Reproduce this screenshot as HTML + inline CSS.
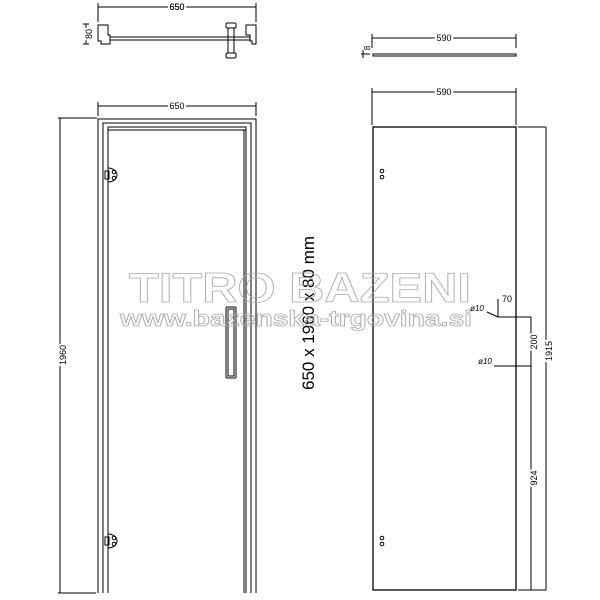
<!DOCTYPE html>
<html><head><style>body{margin:0;background:#fff}svg{display:block}</style></head><body>
<svg width="600" height="600" xmlns="http://www.w3.org/2000/svg" font-family="Liberation Sans, sans-serif">
<rect width="600" height="600" fill="#fff"/>
<g stroke="#000" fill="none" stroke-width="1">
<!-- top plan view -->
<line x1="98" y1="7" x2="256" y2="7"/><line x1="98" y1="3" x2="98" y2="22"/><line x1="256" y1="3" x2="256" y2="22"/>
<line x1="86" y1="24" x2="86" y2="44"/><line x1="83" y1="24" x2="89" y2="24"/><line x1="83" y1="44" x2="89" y2="44"/>
<path d="M98 25 H108 V35 H110 V44 H101 V41 H98 Z"/>
<path d="M246 25 H256 V44 H252 V41 H250 V35 H246 Z"/>
<rect x="110" y="37" width="140" height="3"/>
<rect x="226" y="23" width="10" height="5" rx="1.5"/><rect x="228" y="28" width="6" height="25"/><rect x="226" y="53" width="10" height="5" rx="1.5"/>
<!-- front frame -->
<line x1="98" y1="106" x2="256" y2="106"/><line x1="98" y1="102" x2="98" y2="116"/><line x1="256" y1="102" x2="256" y2="116"/>
<line x1="60" y1="118" x2="60" y2="593"/><line x1="58" y1="118" x2="97" y2="118"/><line x1="58" y1="593" x2="96" y2="593"/>
<path d="M98 593 V119 H256 V593"/>
<path d="M103 593 V123 H251 V593"/>
<path d="M108 593 V127 H246 V593"/>
<line x1="108" y1="130" x2="246" y2="130"/>
<line x1="244" y1="130" x2="244" y2="593"/>
<!-- hinges -->
<path d="M108 168 A9 7 0 0 1 108 182"/><rect x="105" y="171" width="4" height="8"/>
<circle cx="114" cy="172" r="1.8"/><circle cx="114" cy="178" r="1.8"/>
<path d="M108 534 A9 7 0 0 1 108 548"/><rect x="105" y="537" width="4" height="8"/>
<circle cx="114" cy="538" r="1.8"/><circle cx="114" cy="544" r="1.8"/>
<!-- handle -->
<rect x="226" y="307" width="10" height="71" rx="1"/><rect x="228" y="309" width="6" height="67"/>
<!-- right: glass top view -->
<line x1="372" y1="38" x2="516" y2="38"/><line x1="372" y1="34" x2="372" y2="48"/><line x1="516" y1="34" x2="516" y2="48"/>
<rect x="373" y="54" width="143" height="2"/>
<line x1="363" y1="50" x2="363" y2="58"/><line x1="361" y1="54" x2="370" y2="54"/>
<!-- glass panel -->
<line x1="372" y1="92" x2="516" y2="92"/><line x1="372" y1="88" x2="372" y2="125"/><line x1="516" y1="88" x2="516" y2="125"/>
<rect x="373" y="127" width="143" height="463" stroke-width="1.3"/>
<circle cx="382" cy="171" r="1.8"/><circle cx="382" cy="177" r="1.8"/>
<circle cx="382" cy="538" r="1.8"/><circle cx="382" cy="544" r="1.8"/>
<line x1="518" y1="127" x2="546" y2="127"/><line x1="546" y1="127" x2="546" y2="590"/>
<line x1="518" y1="590" x2="546" y2="590"/>
<line x1="498" y1="317" x2="531" y2="317"/><line x1="498" y1="366" x2="531" y2="366"/>
<line x1="531" y1="317" x2="531" y2="590"/>
<line x1="498" y1="299" x2="498" y2="317"/>
<line x1="487" y1="312" x2="498" y2="317"/><line x1="494" y1="366" x2="498" y2="366"/>
</g>
<g font-size="9" fill="#000" text-anchor="middle">
<text x="177" y="10" fill="#000" style="paint-order:stroke" stroke="#fff" stroke-width="4">650</text>
<text x="177" y="10">650</text>
<text x="177" y="109" stroke="#fff" stroke-width="4">650</text><text x="177" y="109">650</text>
<text x="444" y="41" stroke="#fff" stroke-width="4">590</text><text x="444" y="41">590</text>
<text x="444" y="95" stroke="#fff" stroke-width="4">590</text><text x="444" y="95">590</text>
<text x="89" y="37" transform="rotate(-90 89 34)" stroke="#fff" stroke-width="4">80</text><text x="89" y="37" transform="rotate(-90 89 34)">80</text>
<text x="367" y="51" transform="rotate(-90 367 48)" font-size="8">8</text>
<text x="63" y="358" transform="rotate(-90 63 355)" stroke="#fff" stroke-width="4">1960</text><text x="63" y="358" transform="rotate(-90 63 355)">1960</text>
<text x="549" y="354" transform="rotate(-90 549 351)" stroke="#fff" stroke-width="4">1915</text><text x="549" y="354" transform="rotate(-90 549 351)">1915</text>
<text x="534" y="345" transform="rotate(-90 534 342)" stroke="#fff" stroke-width="4">200</text><text x="534" y="345" transform="rotate(-90 534 342)">200</text>
<text x="534" y="481" transform="rotate(-90 534 478)" stroke="#fff" stroke-width="4">924</text><text x="534" y="481" transform="rotate(-90 534 478)">924</text>
<text x="507" y="302" stroke="#fff" stroke-width="3">70</text><text x="507" y="302">70</text>
<text x="477" y="311" font-style="italic" font-size="8">ø10</text>
<text x="485" y="364" font-style="italic" font-size="8">ø10</text>
</g>
<text x="308" y="313" transform="rotate(-90 308 313)" text-anchor="middle" font-size="17" fill="#000" dy="6">650 x 1960 x 80 mm</text>
<g fill="none" stroke="#aaa" stroke-width="0.8" text-anchor="middle" font-weight="bold">
<text x="300" y="302" font-size="42" textLength="342" lengthAdjust="spacingAndGlyphs">TITRO BAZENI</text>
<text x="296" y="326" font-size="22" textLength="352" lengthAdjust="spacingAndGlyphs">www.bazenska-trgovina.si</text>
</g>
</svg>
</body></html>
